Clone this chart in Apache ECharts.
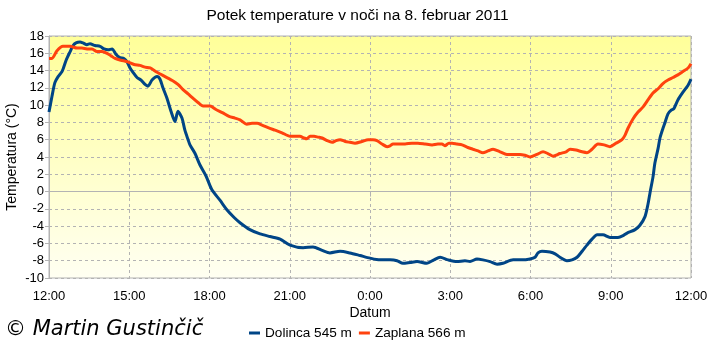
<!DOCTYPE html>
<html>
<head>
<meta charset="utf-8">
<script src="https://cdn.jsdelivr.net/npm/echarts@6/dist/echarts.min.js"></script>
<style>
html,body{margin:0;padding:0;background:#fff;}
#c{width:715px;height:347px;}
</style>
</head>
<body>
<div id="c"></div>
<script>
// hours after 12:00 on 7 Feb 2011
var dolincaHours = [0.00,0.11,0.22,0.34,0.49,0.64,0.79,0.90,1.01,1.16,1.27,1.42,1.53,1.72,1.91,2.06,2.21,2.36,2.50,2.65,2.80,2.92,3.03,3.14,3.29,3.44,3.59,3.70,3.85,4.04,4.15,4.26,4.41,4.56,4.71,4.82,4.97,5.08,5.20,5.27,5.46,5.64,5.87,6.09,6.39,6.65,6.92,7.14,7.51,7.89,8.26,8.64,9.01,9.50,9.87,10.21,10.50,10.88,11.25,11.63,12.00,12.37,12.75,13.01,13.23,13.50,13.76,14.13,14.39,14.62,14.92,15.25,15.55,15.74,16.00,16.22,16.49,16.75,16.97,17.35,17.68,17.98,18.17,18.28,18.43,18.73,18.92,19.10,19.36,19.55,19.74,19.93,20.11,20.30,20.49,20.71,20.97,21.27,21.46,21.61,21.91,22.09,22.28,22.39,22.47,22.58,22.65,22.77,22.84,22.95,23.03,23.14,23.25,23.36,23.51,23.70,23.89,24.00];
var dolincaTemps = [9.2,11.0,12.6,13.3,13.9,15.2,16.2,16.9,17.2,17.3,17.2,17.0,17.1,16.9,16.8,16.5,16.4,16.5,15.9,15.5,15.4,15.0,14.3,13.8,13.2,12.9,12.4,12.2,12.9,13.3,13.0,12.0,10.8,9.3,8.1,9.3,8.5,7.1,6.0,5.4,4.4,3.1,1.8,0.2,-1.0,-2.1,-3.0,-3.6,-4.4,-4.9,-5.2,-5.5,-6.2,-6.5,-6.4,-6.8,-7.1,-6.9,-7.1,-7.4,-7.7,-7.9,-7.9,-8.0,-8.3,-8.2,-8.1,-8.3,-7.9,-7.6,-7.9,-8.1,-8.0,-8.1,-7.8,-7.9,-8.1,-8.4,-8.3,-7.9,-7.9,-7.8,-7.6,-7.1,-6.9,-7.0,-7.2,-7.6,-8.0,-7.9,-7.6,-6.9,-6.2,-5.5,-5.0,-5.0,-5.3,-5.3,-5.1,-4.8,-4.4,-3.9,-2.9,-1.5,-0.1,1.7,3.3,5.0,6.2,7.3,8.0,9.0,9.4,9.6,10.6,11.5,12.3,13.0];

var zaplanaHours = [0.00,0.11,0.30,0.52,0.79,1.05,1.23,1.42,1.61,1.79,1.98,2.17,2.32,2.47,2.69,2.95,3.18,3.40,3.59,3.78,4.04,4.34,4.64,4.82,5.01,5.20,5.38,5.57,5.76,6.02,6.24,6.50,6.73,6.95,7.14,7.40,7.59,7.78,7.96,8.19,8.45,8.71,9.01,9.20,9.38,9.53,9.64,9.76,9.91,10.06,10.21,10.39,10.58,10.73,10.88,11.07,11.25,11.44,11.70,11.93,12.11,12.26,12.45,12.64,12.75,12.86,13.12,13.31,13.57,13.79,14.06,14.32,14.54,14.69,14.80,14.95,15.07,15.25,15.44,15.66,15.85,16.04,16.22,16.41,16.60,16.86,17.12,17.35,17.61,17.79,17.98,18.24,18.47,18.65,18.84,19.10,19.33,19.48,19.70,19.93,20.11,20.30,20.52,20.75,20.97,21.20,21.42,21.53,21.64,21.83,22.02,22.21,22.39,22.58,22.77,22.95,23.14,23.33,23.51,23.70,23.89,24.00];
var zaplanaTemps = [15.4,15.4,16.3,16.8,16.8,16.6,16.6,16.5,16.5,16.2,16.2,16.0,15.7,15.4,15.2,15.0,14.7,14.6,14.4,14.3,13.8,13.3,12.8,12.4,11.8,11.3,10.8,10.3,9.9,9.9,9.5,9.1,8.7,8.5,8.3,7.8,7.9,7.9,7.7,7.4,7.1,6.8,6.4,6.4,6.4,6.2,6.1,6.4,6.4,6.3,6.2,5.9,5.7,5.9,6.0,5.8,5.7,5.6,5.8,6.0,6.0,5.9,5.5,5.2,5.3,5.5,5.5,5.5,5.6,5.6,5.5,5.4,5.5,5.5,5.3,5.6,5.6,5.5,5.4,5.1,4.9,4.7,4.5,4.7,4.9,4.6,4.3,4.3,4.3,4.2,4.0,4.3,4.6,4.4,4.1,4.4,4.6,4.9,4.8,4.6,4.5,4.9,5.5,5.4,5.2,5.6,6.0,6.5,7.3,8.4,9.2,9.8,10.6,11.4,11.9,12.5,12.9,13.2,13.5,13.9,14.3,14.8];

var xTickLabels = ['12:00','15:00','18:00','21:00','0:00','3:00','6:00','9:00','12:00'];
var seriesNames = ['Dolinca 545 m','Zaplana 566 m'];

function pairs(h, v){ var out=[]; for(var i=0;i<h.length;i++){ out.push([h[i], v[i]]); } return out; }

var FONT = '"Liberation Sans", Arial, sans-serif';
var chart = echarts.init(document.getElementById('c'), null, {renderer:'canvas'});
chart.setOption({
  animation:false,
  backgroundColor:'#ffffff',
  title:{
    text:'Potek temperature v noči na 8. februar 2011',
    left:'center', top:8, padding:0,
    textStyle:{fontFamily:FONT, fontSize:15.5, fontWeight:'normal', color:'#000'}
  },
  legend:{
    data:seriesNames,
    left:249, top:326, padding:0,
    itemWidth:11, itemHeight:3, itemGap:7,
    icon:'rect',
    textStyle:{fontFamily:FONT, fontSize:13.6, color:'#000'}
  },
  grid:{
    left:49, right:24, top:36, bottom:69,
    containLabel:false, outerBoundsMode:'none',
    show:true, borderColor:'#b3b3b3', borderWidth:1,
    backgroundColor:new echarts.graphic.LinearGradient(0,0,0,1,[
      {offset:0,color:'#ffff99'},{offset:1,color:'#fffff2'}
    ])
  },
  xAxis:{
    type:'value', min:0, max:24, interval:3,
    name:'Datum', nameLocation:'middle', nameGap:28, nameMoveOverlap:false,
    nameTextStyle:{fontFamily:FONT, fontSize:14, color:'#000'},
    axisLine:{lineStyle:{color:'#b3b3b3'}},
    axisTick:{show:true, length:5, lineStyle:{color:'#b3b3b3'}},
    axisLabel:{fontFamily:FONT, fontSize:13, color:'#000', margin:12,
      formatter:function(v){ return xTickLabels[Math.round(v/3)]; }},
    splitLine:{show:true, lineStyle:{color:'#b3b3b3', type:[3,3]}}
  },
  yAxis:{
    type:'value', min:-10, max:18, interval:2,
    name:'Temperatura (°C)', nameLocation:'middle', nameGap:30, nameRotate:90, nameMoveOverlap:false,
    nameTextStyle:{fontFamily:FONT, fontSize:14, color:'#000'},
    axisLine:{show:true, lineStyle:{color:'#b3b3b3'}},
    axisTick:{show:true, length:4, lineStyle:{color:'#b3b3b3'}},
    axisLabel:{fontFamily:FONT, fontSize:13, color:'#000', margin:5},
    splitLine:{show:true, lineStyle:{color:'#b3b3b3', type:[3,3]}}
  },
  series:[
    {name:seriesNames[0], type:'line', data:pairs(dolincaHours, dolincaTemps),
     showSymbol:false, smooth:0.25, lineStyle:{width:3, color:'#004586'}, itemStyle:{color:'#004586'}},
    {name:seriesNames[1], type:'line', data:pairs(zaplanaHours, zaplanaTemps),
     showSymbol:false, smooth:0.25, lineStyle:{width:3, color:'#ff420e'}, itemStyle:{color:'#ff420e'}}
  ],
  graphic:[
    {type:'text', left:5, top:319,
     style:{text:'© Martin Gustinčič', font:'italic 21px "DejaVu Sans", sans-serif', fill:'#000'}}
  ]
});
</script>
</body>
</html>
